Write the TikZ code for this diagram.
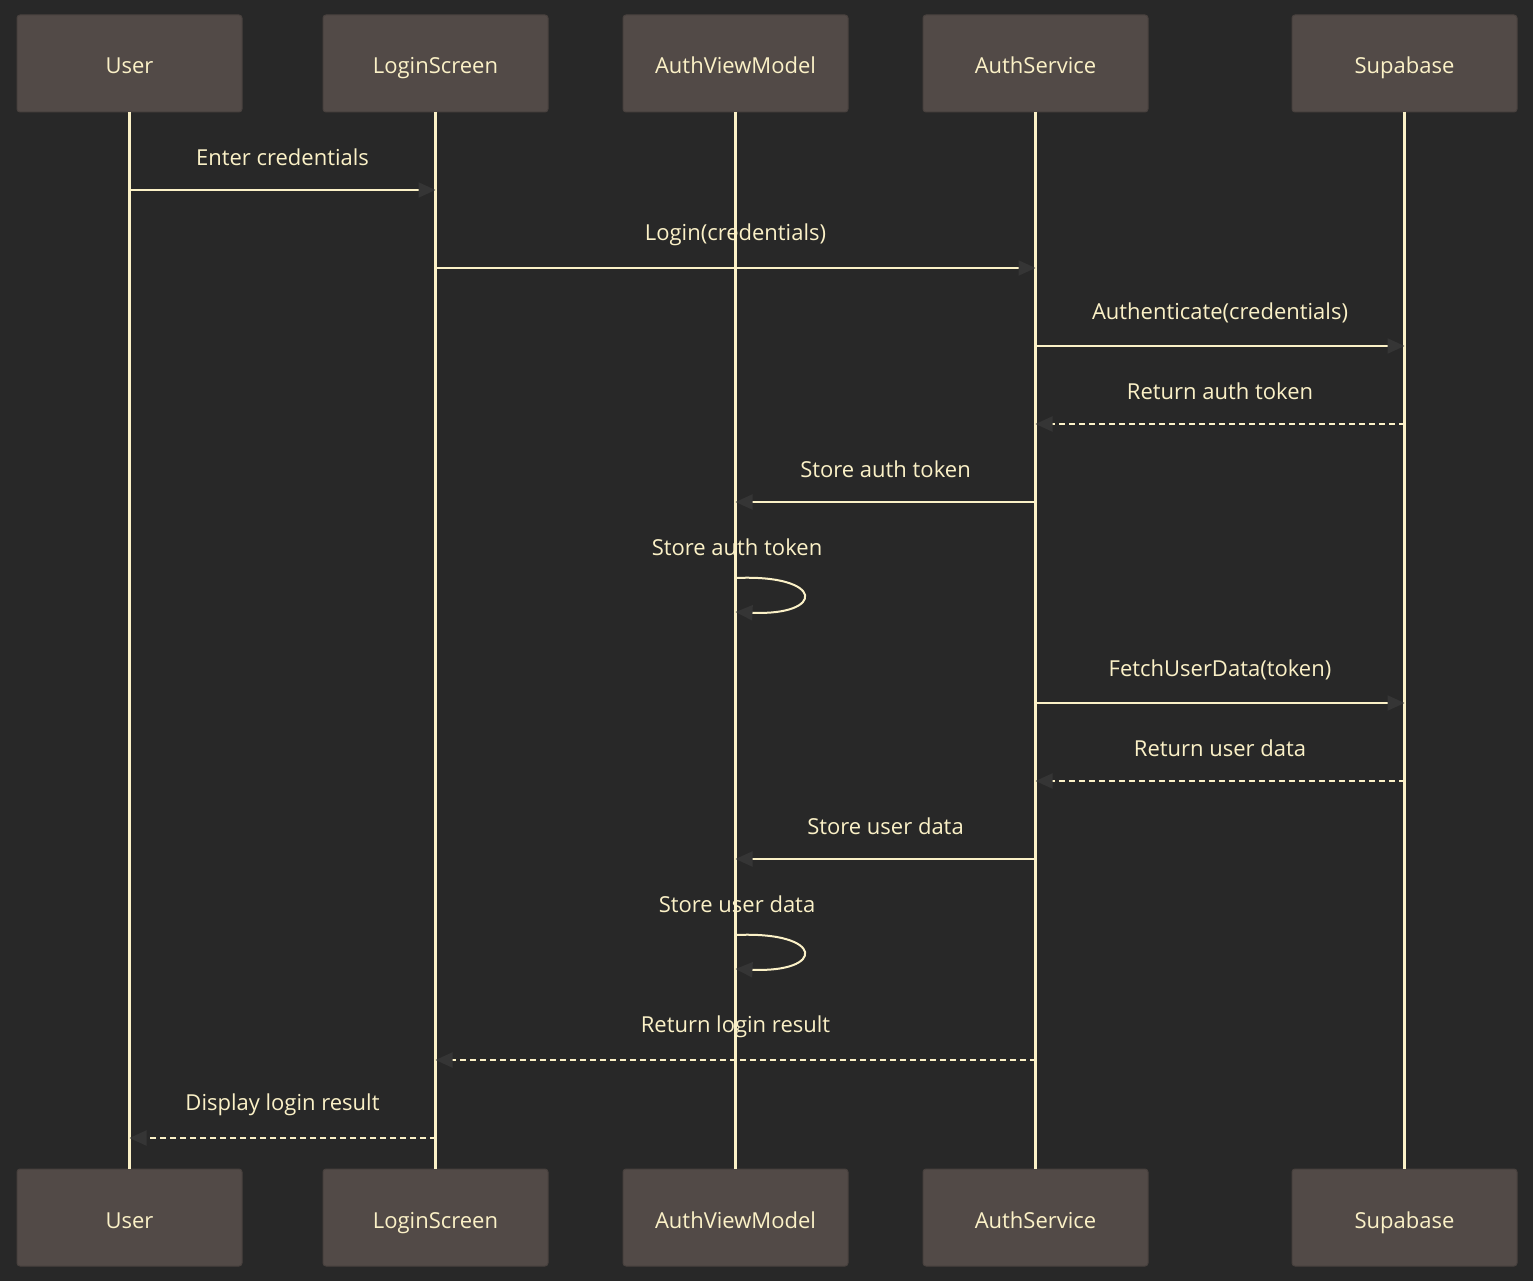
\documentclass[tikz,border=0pt]{standalone}
\usepackage{fontspec}
\setmainfont{Open Sans}
\usetikzlibrary{arrows.meta,positioning}

\definecolor{bgdark}{HTML}{282828}
\definecolor{boxfill}{HTML}{524A47}
\definecolor{boxline}{HTML}{48413E}
\definecolor{cream}{HTML}{FBF1C7}
\definecolor{tipgray}{HTML}{353535}

\begin{document}
\begin{tikzpicture}[
    x=1pt, y=-1pt,
    node distance=1057pt and 81pt,
    actor/.style={rectangle, rounded corners=3pt, draw=boxline, line width=1pt,
        outer sep=0pt, fill=boxfill, text=cream, minimum width=225pt,
        minimum height=97pt, text height=24pt, text depth=3pt,
        font=\fontsize{22}{26}\selectfont},
    lifeline/.style={cream, line width=2.5pt},
    msg/.style={cream, line width=2pt,
        -{Triangle[length=17pt, width=15pt, color=tipgray]}},
    reply/.style={msg, dash pattern=on 6pt off 4pt},
    lbl/.style={text=cream, font=\fontsize{22}{26}\selectfont, inner sep=1pt}
]
\fill[bgdark] (0,0) rectangle (1533,1281);

% participants
\node[actor] (userT) at (129.5,63.5) {User};
\node[actor] (loginT) [right=81pt of userT] {LoginScreen};
\node[actor] (avmT) [right=75pt of loginT] {AuthViewModel};
\node[actor] (asvcT) [right=75pt of avmT] {AuthService};
\node[actor] (supaT) [right=144pt of asvcT] {Supabase};

\node[actor] (userB) [below=of userT] {User};
\node[actor] (loginB) [below=of loginT] {LoginScreen};
\node[actor] (avmB) [below=of avmT] {AuthViewModel};
\node[actor] (asvcB) [below=of asvcT] {AuthService};
\node[actor] (supaB) [below=of supaT] {Supabase};

% lifelines
\draw[lifeline] (userT) -- (userB);
\draw[lifeline] (loginT) -- (loginB);
\draw[lifeline] (avmT) -- (avmB);
\draw[lifeline] (asvcT) -- (asvcB);
\draw[lifeline] (supaT) -- (supaB);

% messages
\draw[msg] (userT |- 0,190) -- node[lbl, midway, yshift=33pt] {Enter credentials} (loginT |- 0,190);
\draw[msg] (loginT |- 0,268) -- node[lbl, midway, yshift=33pt] {Login(credentials)} (asvcT |- 0,268);
\draw[msg] (asvcT |- 0,346) -- node[lbl, midway, yshift=33pt] {Authenticate(credentials)} (supaT |- 0,346);
\draw[reply] (supaT |- 0,424) -- node[lbl, midway, yshift=33pt] {Return auth token} (asvcT |- 0,424);
\draw[msg] (asvcT |- 0,502) -- node[lbl, midway, yshift=33pt] {Store auth token} (avmT |- 0,502);
\node[lbl] (store1) at (737,547) {Store auth token};
\draw[msg] (avmT |- 0,578) .. controls +(90,-4) and +(90,4) .. (avmT |- 0,612);
\draw[msg] (asvcT |- 0,703) -- node[lbl, midway, yshift=33pt] {FetchUserData(token)} (supaT |- 0,703);
\draw[reply] (supaT |- 0,781) -- node[lbl, midway, yshift=33pt] {Return user data} (asvcT |- 0,781);
\draw[msg] (asvcT |- 0,859) -- node[lbl, midway, yshift=33pt] {Store user data} (avmT |- 0,859);
\node[lbl] (store2) at (737,904) {Store user data};
\draw[msg] (avmT |- 0,935) .. controls +(90,-4) and +(90,4) .. (avmT |- 0,969);
\draw[reply] (asvcT |- 0,1060) -- node[lbl, midway, yshift=33pt] {Return login result} (loginT |- 0,1060);
\draw[reply] (loginT |- 0,1138) -- node[lbl, midway, yshift=33pt] {Display login result} (userT |- 0,1138);
\end{tikzpicture}
\end{document}
